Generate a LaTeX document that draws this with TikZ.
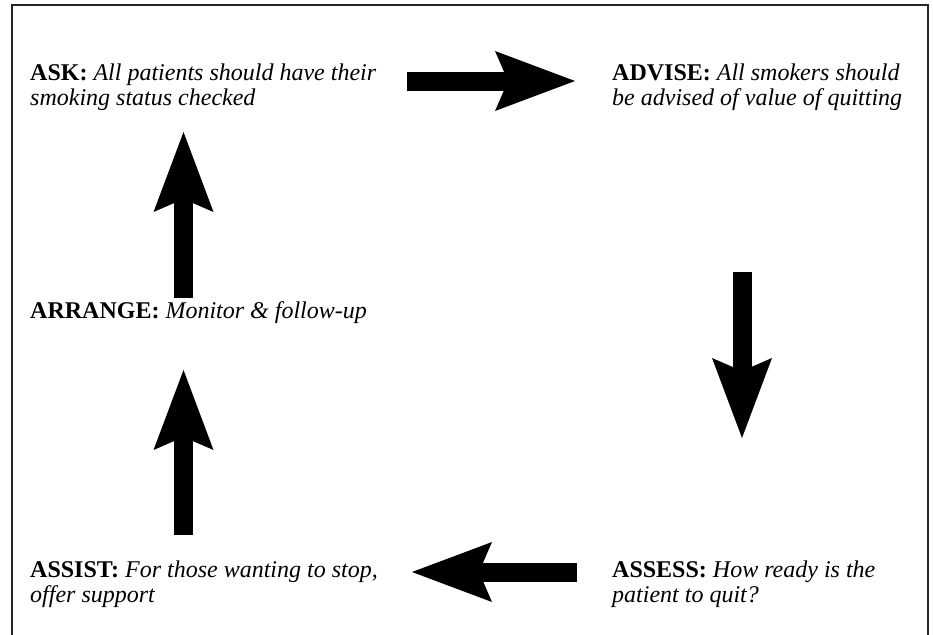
\documentclass[tikz,border=0pt]{standalone}
\usepackage{fontspec}
\setmainfont{Liberation Serif}
\usetikzlibrary{arrows.meta}
\tikzset{
  stage/.style={anchor=north west, inner sep=0pt, align=left, font=\fontsize{24}{25}\selectfont},
  bigarrow/.style={line width=19pt, line cap=butt, draw=black,
    -{Stealth[length=80pt, width=60pt, inset=13pt, line width=0pt]}},
  frame/.style={draw=black!85, line width=2.5pt}
}
\begin{document}
\begin{tikzpicture}[x=1pt, y=-1pt]
\useasboundingbox (0,0) rectangle (933,634);
\draw[frame] (12,640) -- (12,5) -- (928,5) -- (928,640);

\node[stage] (ask) at (30,64) {\textbf{ASK:} \textit{All patients should have their}\\\textit{smoking status checked}};
\node[stage] (advise) at (612,64) {\textbf{ADVISE:} \textit{All smokers should}\\\textit{be advised of value of quitting}};
\node[stage] (arrange) at (30,301) {\textbf{ARRANGE:} \textit{Monitor \& follow-up}};
\node[stage] (assist) at (30,561) {\textbf{ASSIST:} \textit{For those wanting to stop,}\\\textit{offer support}};
\node[stage] (assess) at (612,561) {\textbf{ASSESS:} \textit{How ready is the}\\\textit{patient to quit?}};

\coordinate (a1s) at (407,81);  \coordinate (a1e) at (575,81);
\coordinate (a2s) at (742,272); \coordinate (a2e) at (742,438);
\coordinate (a3s) at (577,572); \coordinate (a3e) at (412,572);
\coordinate (a4s) at (183.5,535); \coordinate (a4e) at (183.5,370);
\coordinate (a5s) at (183.5,298); \coordinate (a5e) at (183.5,132);

\draw[bigarrow] (a1s) -- (a1e);
\draw[bigarrow] (a2s) -- (a2e);
\draw[bigarrow] (a3s) -- (a3e);
\draw[bigarrow] (a4s) -- (a4e);
\draw[bigarrow] (a5s) -- (a5e);
\end{tikzpicture}
\end{document}
